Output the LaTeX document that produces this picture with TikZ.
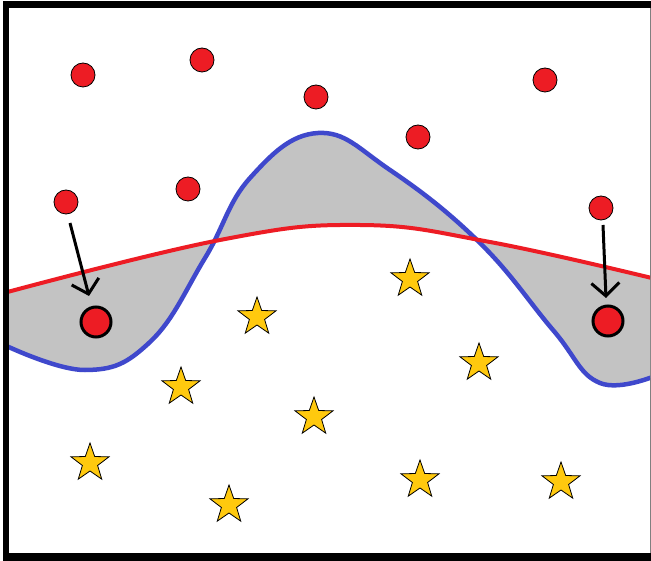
\documentclass[tikz,border=0pt]{standalone}
\usetikzlibrary{shapes.geometric,arrows.meta}
\definecolor{dotred}{HTML}{ED1C24}
\definecolor{curveblue}{HTML}{3F48CC}
\definecolor{fillgray}{HTML}{C3C3C3}
\definecolor{staryellow}{HTML}{FFC90E}
\tikzset{
  smalldot/.style={circle,fill=dotred,draw=black,line width=0.8pt,minimum size=24pt,inner sep=0pt},
  bigdot/.style={circle,fill=dotred,draw=black,line width=3pt,minimum size=30pt,inner sep=0pt},
  yellowstar/.style={star,star points=5,star point ratio=2.5,fill=staryellow,draw=black,line width=0.8pt,minimum size=40pt,inner sep=0pt},
  movearrow/.style={draw=black,line width=3pt,-{Straight Barb[length=13pt,width=28pt]}},
  redcurve/.style={draw=dotred,line width=4pt},
  bluecurve/.style={draw=curveblue,line width=4.5pt}
}
\begin{document}
\begin{tikzpicture}[x=1pt,y=-1pt]
\useasboundingbox (0,0) rectangle (651,561);
\fill[black] (3,1) rectangle (655,562);
\fill[white] (9,8) rectangle (650,553);
\draw[gray,line width=0.6pt] (650,8) -- (650,553);
\begin{scope}
\clip (9,8) rectangle (650,553);
\fill[fillgray] plot[smooth,tension=0.7] coordinates {(0,294) (220,240) (360,225) (490,242) (660,280)} -- plot[smooth,tension=0.7] coordinates {(660,374) (600,383) (553,330) (480,243) (390,170) (318,133) (250,178) (205,258) (150,342) (85,370) (0,343)} -- cycle;
\draw[bluecurve] plot[smooth,tension=0.7] coordinates {(0,343) (85,370) (150,342) (205,258) (250,178) (318,133) (390,170) (480,243) (553,330) (600,383) (660,374)};
\draw[redcurve] plot[smooth,tension=0.7] coordinates {(0,294) (220,240) (360,225) (490,242) (660,280)};
\end{scope}
% small dots
\node[smalldot] (d1) at (83,75) {};
\node[smalldot] (d2) at (202,60) {};
\node[smalldot] (d3) at (316,97) {};
\node[smalldot] (d4) at (418,137) {};
\node[smalldot] (d5) at (545,80) {};
\node[smalldot] (d6) at (66,202) {};
\node[smalldot] (d7) at (188,189) {};
\node[smalldot] (d8) at (601,208) {};
% big dots
\node[bigdot] (b1) at (96,322) {};
\node[bigdot] (b2) at (608,321) {};
% arrows
\coordinate (a1s) at (70,223);
\coordinate (a1e) at (89,296);
\coordinate (a2s) at (603,225);
\coordinate (a2e) at (606,298);
\draw[movearrow] (a1s) -- (a1e);
\draw[movearrow] (a2s) -- (a2e);
% stars
\node[yellowstar] (s1) at (410,279) {};
\node[yellowstar] (s2) at (257,317) {};
\node[yellowstar] (s3) at (181,387) {};
\node[yellowstar] (s4) at (479,363) {};
\node[yellowstar] (s5) at (314,417) {};
\node[yellowstar] (s6) at (90,463) {};
\node[yellowstar] (s7) at (229,505) {};
\node[yellowstar] (s8) at (420,480) {};
\node[yellowstar] (s9) at (561,482) {};
\end{tikzpicture}
\end{document}
